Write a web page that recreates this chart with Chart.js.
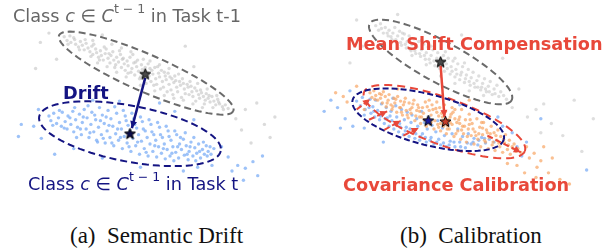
<!DOCTYPE html>
<html>
<head>
<meta charset="utf-8">
<script src="https://cdn.jsdelivr.net/npm/chart.js@4.4.1/dist/chart.umd.min.js"></script>
<style>
  html, body { margin: 0; padding: 0; background: #fff; }
  #figure { position: relative; width: 607px; height: 251px; overflow: hidden; }
  #figure canvas { position: absolute; top: 0; }
  .lbl {
    position: absolute;
    font-family: "DejaVu Sans", sans-serif;
    font-size: 17.7px;
    line-height: 1;
    white-space: nowrap;
  }
  .lbl i { font-style: oblique; }
  .lbl .sup { font-size: 12.5px; position: relative; top: -9px; }
  .bold { font-weight: bold; }
  .cap {
    position: absolute;
    font-family: "Liberation Serif", "Times New Roman", serif;
    font-size: 23px;
    line-height: 1;
    white-space: nowrap;
    color: #111;
  }
</style>
</head>
<body>
<div id="figure">
  <canvas id="driftChart" width="300" height="205" style="left:0"></canvas>
  <canvas id="calibChart" width="307" height="205" style="left:300px"></canvas>

  <div class="lbl" style="left:13px;top:8px;color:#666">Class <i>c</i> ∈ <i>C</i><span class="sup">t − 1</span> in Task t-1</div>
  <div class="lbl bold" style="left:63px;top:85px;color:#141482">Drift</div>
  <div class="lbl" style="left:28px;top:176px;color:#141482">Class <i>c</i> ∈ <i>C</i><span class="sup">t − 1</span> in Task t</div>

  <div class="lbl bold" style="left:346px;top:36px;color:#e8483a">Mean Shift Compensation</div>
  <div class="lbl bold" style="left:343px;top:177px;color:#e8483a">Covariance Calibration</div>

  <div class="cap" style="left:70px;top:224px">(a)&nbsp; Semantic Drift</div>
  <div class="cap" style="left:400px;top:224px">(b)&nbsp; Calibration</div>
</div>

<script>
/* =========================================================
   DATA — feature embeddings (2-D projection)
========================================================= */

// (a) class c features extracted in task t-1 (gray)
const driftOldPts = [
  [60,32],[63,36],[66,31],[67,38],[71,35],[72,40],[75,43],[77,37],[79,41],[81,46],[83,39],[85,44],
  [87,48],[89,42],[90,51],[93,45],[94,49],[96,54],[98,47],[99,52],[101,57],[103,50],[104,45],[106,55],
  [108,60],[109,52],[111,48],[112,57],[114,62],[115,54],[117,59],[119,51],[120,65],[121,56],[123,61],
  [124,68],[126,58],[127,63],[129,54],[130,70],[131,66],[133,60],[134,73],[136,64],[137,57],[138,69],
  [140,75],[141,62],[142,67],[144,78],[145,65],[147,70],[148,61],[149,74],[151,80],[152,68],[153,72],
  [155,65],[156,77],[157,83],[159,71],[160,75],[162,68],[163,80],[164,86],[166,74],[167,78],[169,71],
  [170,83],[172,89],[173,77],[175,81],[176,74],[178,86],[179,91],[181,80],[182,84],[184,77],[186,88],
  [187,93],[189,83],[190,86],[192,80],[194,91],[195,96],[197,87],[199,90],[201,94],[202,98],[204,92],
  [206,96],[208,100],[209,93],[211,98],[213,102],[215,96],[217,101],[219,105],[221,99],[223,104],
  [226,107],[229,105],[232,109],
  [120,44],[130,48],[150,58],[160,62],[170,66],[140,84],[155,90],[165,95],[175,98],[185,100],[195,104],
  [205,108],[125,75],[115,70],[105,64],[95,60],[90,36],[110,40],[180,72],[200,82],[210,88],[220,95],
  [64,40],[70,33],[76,46],[82,35],[88,53],[91,40],[97,57],[102,43],[107,50],[113,65],[118,47],[122,55],
  [127,71],[132,51],[135,59],[139,77],[143,56],[146,82],[150,66],[154,84],[158,64],[161,88],[165,70],
  [168,91],[171,75],[174,94],[177,79],[183,97],[185,82],[191,94],[193,85],[198,101],[203,89],[207,104],
  [212,95],[216,108],[222,102],[227,110],
  [35,38],[30,66],[44,28],[100,30],[187,42],[196,64],[250,110],[262,103],[270,126],[281,118],[246,132],
  [256,146],[276,140],[240,120],[52,56]
];

// (a) same class features extracted in task t (blue)
const driftNewPts = [
  [44,117],[46,122],[49,114],[52,125],[54,119],[57,128],[58,113],[61,123],[63,131],[64,117],[67,126],
  [69,112],[70,134],[72,121],[74,129],[76,115],[78,137],[79,124],[81,110],[83,131],[84,119],[86,140],
  [88,126],[89,113],[91,134],[93,121],[94,143],[96,129],[97,108],[99,137],[100,116],[102,125],[103,146],
  [105,133],[106,111],[108,140],[109,120],[111,128],[112,149],[114,136],[115,114],[117,143],[118,124],
  [120,131],[121,152],[123,139],[124,117],[126,146],[127,127],[129,133],[130,155],[132,141],[133,120],
  [135,149],[136,130],[138,137],[139,158],[141,144],[142,123],[144,152],[145,133],[147,140],[148,160],
  [150,147],[151,126],[153,155],[154,137],[156,143],[157,161],[159,150],[160,129],[162,157],[163,140],
  [165,147],[166,163],[168,153],[169,133],[171,160],[172,143],[174,150],[175,165],[177,156],[178,137],
  [180,162],[181,147],[183,153],[185,142],[186,159],[188,149],[190,164],[191,155],[193,145],[195,160],
  [197,151],[199,157],[201,147],[203,162],[205,153],[207,158],[209,149],[211,155],[214,158],[217,152],
  [48,127],[55,111],[60,130],[66,119],[71,108],[73,140],[77,131],[80,118],[85,106],[87,135],[92,116],
  [95,145],[98,122],[101,141],[104,118],[107,127],[110,146],[113,107],[116,131],[119,140],[122,111],
  [125,122],[128,150],[131,114],[134,126],[137,145],[140,118],[143,131],[146,156],[149,121],[152,134],
  [155,149],[158,124],[161,137],[164,152],[167,128],[170,139],[173,157],[176,133],[179,150],[182,140],
  [187,135],[189,158],[192,150],[196,140],[198,165],[202,155],[206,145],[210,160],[213,150],
  [15,126],[12,139],[28,128],[36,141],[50,158],[33,110],[90,100],[118,101],[160,103],[176,112],[196,121],
  [225,150],[232,161],[242,170],[250,173],[258,166],[268,160],[263,181],[248,186],[236,176],[215,170],
  [100,162],[70,152],[140,172],[185,176],[200,172]
];

// (b) old-task features (gray)
const calibOldPts = [
  [372,20],[375,25],[377,18],[380,28],[382,22],[385,31],[386,25],[389,35],[390,28],[392,22],[394,38],
  [395,31],[397,26],[399,41],[400,34],[402,29],[404,44],[405,37],[407,31],[409,47],[410,40],[412,34],
  [414,50],[415,43],[417,37],[419,53],[420,46],[422,40],[424,56],[425,49],[427,43],[429,60],[430,52],
  [432,46],[434,63],[436,55],[437,49],[439,66],[441,58],[443,52],[444,69],[446,61],[448,55],[450,72],
  [451,64],[453,58],[455,75],[456,67],[458,61],[460,78],[462,70],[463,64],[465,81],[467,73],[469,67],
  [471,84],[472,76],[474,70],[476,86],[478,79],[480,74],[482,89],[484,82],[486,77],[488,91],[490,85],
  [492,80],[494,94],[496,88],[499,84],[501,96],[503,91],[506,95],[509,99],
  [420,36],[430,42],[445,48],[455,55],[465,60],[425,62],[440,74],[455,82],[470,90],[485,95],[400,28],
  [410,52],[395,44],
  [378,23],[384,28],[388,32],[393,35],[398,38],[403,40],[408,45],[413,47],[418,50],[423,52],[428,56],
  [433,58],[438,62],[442,64],[447,66],[452,69],[457,72],[461,73],[466,77],[470,80],[475,82],[479,86],
  [483,86],[487,88],[491,91],[497,93],
  [352,14],[358,42],[345,60],[395,8],[462,30],[505,55],[515,108],[522,88],[531,118],[540,110],[548,104],
  [556,125],[545,135],[568,138],[588,155],[600,120],[580,100]
];

// (b) new-task features (blue)
const calibNewPts = [
  [352,101],[356,106],[358,97],[361,110],[363,103],[366,99],[367,114],[369,107],[371,118],[372,100],
  [374,111],[376,121],[378,104],[379,115],[381,125],[383,108],[384,119],[386,128],[388,112],[389,122],
  [391,131],[393,106],[394,118],[396,134],[397,125],[399,110],[401,137],[402,121],[404,129],[405,113],
  [407,139],[409,124],[410,116],[412,133],[413,141],[415,120],[416,128],[418,143],[420,112],[421,136],
  [423,124],[425,145],[426,131],[428,118],[430,140],[431,127],[433,147],[435,134],[437,122],[438,142],
  [440,148],[442,130],[444,138],[446,150],[448,126],[450,144],[452,136],[455,150],[458,131],[460,145],
  [463,139],[466,151],[469,136],[472,147],[475,141],[479,148],[483,140],[487,146],[491,142],[496,145],
  [360,116],[365,108],[370,112],[377,117],[382,120],[387,117],[392,126],[398,129],[403,133],[408,131],
  [414,136],[419,139],[424,140],[429,143],[436,145],[443,146],[449,148],[454,145],[461,150],[468,146],
  [474,145],[480,143],[486,141],
  [318,112],[325,100],[332,108],[340,120],[345,90],[348,128],[335,130],[360,130],[390,98],[460,105],
  [505,128],[515,135],[520,150],[530,145],[525,160],[593,175],[545,120],[500,118],[380,145]
];

// (b) calibrated old-class distribution (orange)
const calibFixPts = [
  [366,92],[368,97],[370,90],[372,95],[374,100],[376,93],[377,98],[379,103],[380,91],[382,96],[383,107],
  [385,100],[386,94],[388,105],[389,110],[391,98],[392,103],[394,113],[395,96],[397,108],[398,101],
  [400,116],[401,105],[403,98],[404,111],[406,119],[407,103],[409,114],[410,108],[412,100],[413,122],
  [415,111],[416,105],[418,118],[419,125],[421,108],[422,114],[424,102],[425,128],[427,120],[428,111],
  [430,116],[431,105],[433,131],[434,122],[436,113],[437,126],[439,108],[440,133],[442,118],[443,128],
  [445,112],[446,136],[448,121],[449,131],[451,115],[452,126],[454,139],[455,110],[457,124],[458,133],
  [460,118],[461,142],[463,128],[464,136],[466,121],[467,145],[469,131],[470,115],[472,138],[473,125],
  [475,147],[476,134],[478,120],[479,142],[481,129],[482,150],[484,137],[485,124],[487,145],[488,132],
  [490,152],[491,140],[493,128],[494,148],[496,135],[497,154],[499,143],[500,132],[502,150],[503,139],
  [505,156],[507,146],[508,137],[510,153],[512,143],[513,158],[515,150],[517,147],[519,155],[521,152],
  [524,156],
  [420,118],[430,124],[438,117],[447,127],[455,120],[462,132],[470,126],[477,138],[484,130],[492,136],
  [440,125],[450,118],[460,125],[432,110],[418,112],[408,110],[398,108],[428,100],[436,102],[444,105],
  [452,108],[462,110],
  [371,99],[378,94],[384,103],[390,107],[393,99],[399,113],[402,102],[405,116],[411,104],[414,117],
  [417,108],[423,121],[426,107],[429,126],[435,109],[438,129],[441,114],[447,131],[450,124],[453,113],
  [456,136],[459,121],[465,128],[468,139],[471,121],[474,131],[480,136],[483,124],[486,143],[489,135],
  [495,145],[498,138],[501,146],[506,142],[511,148],[516,152],
  [338,96],[330,92],[342,102],[352,85],[360,110],[395,88],[470,100],[530,150],[533,162],[538,157],
  [541,172],[545,165],[540,183],[553,178],[548,150],[557,162],[565,185],[520,170],[510,168],[528,178],
  [575,190]
];

// class means (prototypes)
const driftMeans = [[145, 72], [129, 136]];             // old, new
const calibMeans = [[440, 59], [427, 122], [445, 123]]; // old, new, compensated

// Gaussian contours: [cx, cy, semi-major, semi-minor, angle deg]
const driftOldEllipse = [146, 71, 100, 20, 24];
const driftNewEllipse = [129, 136, 97, 30, 11];
const calibOldEllipse = [440, 59, 85, 22, 29];
const calibNewEllipse = [427, 121, 82, 27, 15];
const calibFixEllipse = [444, 123, 90, 25, 20.6];

// shift vectors
const driftShift = [[145, 76], [131, 130]];
const calibShift = [[440, 63], [444, 118]];
const covShifts = [
  [[352, 110], [366, 99]],
  [[365, 121], [384, 112]],
  [[381, 132], [398, 122]],
  [[401, 138], [417, 130]],
  [[489, 138], [524, 156]]
];

/* =========================================================
   HELPERS
========================================================= */

const NAVY = "#141482";
const RED = "#e8483a";

const toXY = pts => pts.map(([x, y]) => ({ x, y }));

function ellipseOutline([cx, cy, a, b, deg]) {
  const th = deg * Math.PI / 180;
  const out = [];
  for (let k = 0; k <= 90; k++) {
    const p = (k / 90) * Math.PI * 2;
    out.push({
      x: cx + a * Math.cos(p) * Math.cos(th) - b * Math.sin(p) * Math.sin(th),
      y: cy + a * Math.cos(p) * Math.sin(th) + b * Math.sin(p) * Math.cos(th)
    });
  }
  return out;
}

function starImage(fill) {
  const c = document.createElement("canvas");
  c.width = 13; c.height = 13;
  const g = c.getContext("2d");
  g.beginPath();
  for (let i = 0; i < 10; i++) {
    const r = i % 2 ? 2.4 : 5.8;
    const ang = -Math.PI / 2 + i * Math.PI / 5;
    g.lineTo(6.5 + r * Math.cos(ang), 6.8 + r * Math.sin(ang));
  }
  g.closePath();
  g.fillStyle = fill;
  g.fill();
  g.lineWidth = 1;
  g.strokeStyle = "#000";
  g.stroke();
  return c;
}

function cloud(pts, color, order) {
  return {
    data: toXY(pts),
    backgroundColor: color,
    borderWidth: 0,
    pointRadius: 1.7,
    pointStyle: "circle",
    order
  };
}

function contour(params, color, dash, order) {
  return {
    data: ellipseOutline(params),
    showLine: true,
    borderColor: color,
    borderWidth: 2,
    borderDash: dash,
    pointRadius: 0,
    order
  };
}

function arrow(seg, color, dash, width, order) {
  return {
    data: toXY(seg),
    showLine: true,
    borderColor: color,
    borderWidth: width,
    borderDash: dash,
    pointRadius: 0,
    arrowHead: color,
    order
  };
}

function star(pt, fill, order) {
  return {
    data: toXY([pt]),
    pointStyle: starImage(fill),
    pointRadius: 6,
    order
  };
}

/* =========================================================
   ARROWHEAD PLUGIN
========================================================= */

const arrowHeads = {
  id: "arrowHeads",
  afterDatasetsDraw(chart) {
    const ctx = chart.ctx;
    chart.data.datasets.forEach((ds, i) => {
      if (!ds.arrowHead) return;
      const pts = chart.getDatasetMeta(i).data;
      const a = pts[pts.length - 2], b = pts[pts.length - 1];
      const ang = Math.atan2(b.y - a.y, b.x - a.x);
      const len = 7, half = 3.5;
      ctx.save();
      ctx.fillStyle = ds.arrowHead;
      ctx.beginPath();
      ctx.moveTo(b.x, b.y);
      ctx.lineTo(b.x - len * Math.cos(ang) + half * Math.sin(ang), b.y - len * Math.sin(ang) - half * Math.cos(ang));
      ctx.lineTo(b.x - len * Math.cos(ang) - half * Math.sin(ang), b.y - len * Math.sin(ang) + half * Math.cos(ang));
      ctx.closePath();
      ctx.fill();
      ctx.restore();
    });
  }
};

function baseOptions(xMin, xMax) {
  return {
    responsive: false,
    animation: false,
    events: [],
    layout: { padding: 0 },
    plugins: { legend: { display: false }, tooltip: { enabled: false } },
    scales: {
      x: { type: "linear", min: xMin, max: xMax, display: false },
      y: { type: "linear", min: 0, max: 205, reverse: true, display: false }
    }
  };
}

/* =========================================================
   (a) SEMANTIC DRIFT
========================================================= */

new Chart(document.getElementById("driftChart"), {
  type: "scatter",
  data: {
    datasets: [
      star(driftMeans[0], "#4a4a4a", 0),
      star(driftMeans[1], "#0c0c4a", 0),
      arrow(driftShift, NAVY, [], 2.5, 1),
      contour(driftOldEllipse, "#6b6b6b", [7, 4], 2),
      contour(driftNewEllipse, NAVY, [7, 4], 2),
      cloud(driftNewPts, "rgba(115,168,245,0.7)", 4),
      cloud(driftOldPts, "rgba(195,195,195,0.6)", 5)
    ]
  },
  options: baseOptions(0, 300),
  plugins: [arrowHeads]
});

/* =========================================================
   (b) CALIBRATION
========================================================= */

new Chart(document.getElementById("calibChart"), {
  type: "scatter",
  data: {
    datasets: [
      star(calibMeans[0], "#4a4a4a", 0),
      star(calibMeans[1], "#1a1a9c", 0),
      star(calibMeans[2], "#c8402c", 0),
      arrow(calibShift, RED, [], 2.5, 1),
      ...covShifts.map(s => arrow(s, RED, [6, 3], 2, 1)),
      contour(calibOldEllipse, "#6b6b6b", [7, 4], 2),
      contour(calibNewEllipse, NAVY, [6, 3], 2),
      contour(calibFixEllipse, RED, [8, 5], 2.2),
      cloud(calibFixPts, "rgba(248,165,100,0.7)", 3),
      cloud(calibNewPts, "rgba(115,168,245,0.7)", 4),
      cloud(calibOldPts, "rgba(200,200,200,0.6)", 5)
    ]
  },
  options: baseOptions(300, 607),
  plugins: [arrowHeads]
});
</script>
</body>
</html>
